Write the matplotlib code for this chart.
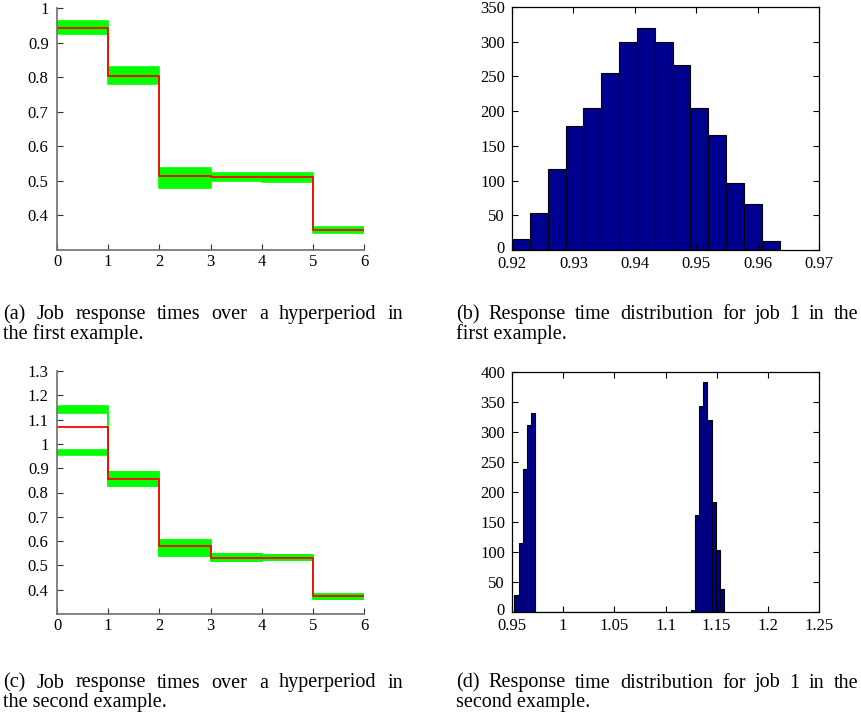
import numpy as np
import matplotlib
matplotlib.use("Agg")
import matplotlib.pyplot as plt
import matplotlib.transforms as mtransforms
from matplotlib.ticker import FuncFormatter

plt.rcParams['font.family'] = ['Liberation Serif', 'DejaVu Serif']

# ---------------- data ----------------
jobs = [0, 1, 2, 3, 4, 5, 6]

# (a) first example: band (min/max over runs) and mean per job
a_low = [0.925, 0.779, 0.478, 0.499, 0.498, 0.348]
a_high = [0.962, 0.830, 0.536, 0.524, 0.524, 0.367]
a_mean = [0.942, 0.803, 0.513, 0.511, 0.510, 0.357]

# (c) second example: job 1 is bimodal
c_up_low = [1.127, 0.828, 0.540, 0.517, 0.521, 0.362]
c_up_high = [1.156, 0.886, 0.606, 0.547, 0.543, 0.383]
c_dn_low = [0.954, 0.828, 0.540, 0.517, 0.521, 0.362]
c_dn_high = [0.975, 0.886, 0.606, 0.547, 0.543, 0.383]
c_mean = [1.070, 0.856, 0.578, 0.529, 0.529, 0.373]

# (b) histogram of job 1 response time, first example
b_start, b_stop = 0.92, 0.9636
b_counts = [16, 53, 117, 179, 204, 255, 300, 320, 300, 266, 204, 166, 96, 66, 13]

# (d) histogram of job 1 response time, second example (50 bins)
d_start, d_stop = 0.9523, 1.1574
d_counts = [29, 115, 238, 312, 332] + [0] * 37 + [4, 162, 343, 384, 320, 184, 104, 38]

captions = [
    ("(a) Job response times over a hyperperiod in", "the first example."),
    ("(b) Response time distribution for job 1 in the", "first example."),
    ("(c) Job response times over a hyperperiod in", "the second example."),
    ("(d) Response time distribution for job 1 in the", "second example."),
]

# ---------------- drawing ----------------
W, H = 861, 712
fig = plt.figure(figsize=(W / 100, H / 100), dpi=100)


def add_ax(x0, y0, x1, y1):
    return fig.add_axes([x0 / W, 1 - y1 / H, (x1 - x0) / W, (y1 - y0) / H])


fmt = FuncFormatter(lambda v, p: "%g" % round(v, 4))
GREEN = "#00ff00"
RED = "#ff0000"
NAVY = (0, 0, 0.56)
TICKFS = 12


def step_panel(ax, bands, mean, ylim, yticks):
    x = np.array(jobs, dtype=float)
    for lo, hi in bands:
        lo_e = list(lo) + [lo[-1]]
        hi_e = list(hi) + [hi[-1]]
        ax.fill_between(x, lo_e, hi_e, step='post', color=GREEN, lw=0)
        ax.step(x, lo_e, where='post', color=GREEN, lw=1.2)
        ax.step(x, hi_e, where='post', color=GREEN, lw=1.2)
    m = list(mean) + [mean[-1]]
    ax.step(x, m, where='post', color=RED, lw=1.3)
    ax.set_xlim(0, 6)
    ax.set_ylim(*ylim)
    ax.set_xticks(jobs)
    ax.set_yticks(yticks)
    ax.yaxis.set_major_formatter(fmt)
    for s in ['top', 'right']:
        ax.spines[s].set_visible(False)
    for s in ['left', 'bottom']:
        ax.spines[s].set_color('#6e6e6e')
        ax.spines[s].set_linewidth(1.2)
    ax.tick_params(direction='in', length=4, width=0.8, color='#333333',
                   labelsize=TICKFS)
    ax.tick_params(axis='y', pad=6)
    ax.tick_params(axis='x', pad=3)


def hist_panel(ax, start, stop, counts, xlim, xticks, ylim, yticks):
    n = len(counts)
    edges = np.linspace(start, stop, n + 1)
    ax.bar(edges[:-1], counts, width=np.diff(edges), align='edge',
           color=NAVY, edgecolor='black', linewidth=0.8)
    ax.set_xlim(*xlim)
    ax.set_ylim(*ylim)
    ax.set_xticks(xticks)
    ax.set_yticks(yticks)
    ax.xaxis.set_major_formatter(fmt)
    for s in ax.spines.values():
        s.set_color('black')
        s.set_linewidth(0.9)
    ax.tick_params(direction='in', length=4, width=0.8, top=True, right=True,
                   labelsize=TICKFS)
    ax.tick_params(axis='y', pad=5)
    ax.tick_params(axis='x', pad=4)
    # lift the bottom "0" label slightly so it clears the x labels
    lab = ax.get_yticklabels()[0]
    lab.set_transform(lab.get_transform() +
                      mtransforms.ScaledTranslation(0, 3 / 100, fig.dpi_scale_trans))


ax_a = add_ax(57, 8, 364, 250)
step_panel(ax_a, [(a_low, a_high)], a_mean, (0.3, 1.0),
           [0.4, 0.5, 0.6, 0.7, 0.8, 0.9, 1.0])

ax_b = add_ax(512, 7, 819, 250)
hist_panel(ax_b, b_start, b_stop, b_counts, (0.92, 0.97),
           [0.92, 0.93, 0.94, 0.95, 0.96, 0.97], (0, 350),
           list(range(0, 351, 50)))

ax_c = add_ax(57, 371, 364, 614)
step_panel(ax_c, [(c_up_low, c_up_high), (c_dn_low, c_dn_high)], c_mean,
           (0.3, 1.3), [0.4, 0.5, 0.6, 0.7, 0.8, 0.9, 1.0, 1.1, 1.2, 1.3])

ax_d = add_ax(512, 372, 819, 612)
hist_panel(ax_d, d_start, d_stop, d_counts, (0.95, 1.25),
           [0.95, 1.0, 1.05, 1.1, 1.15, 1.2, 1.25], (0, 400),
           list(range(0, 401, 50)))

# captions: first line justified to the column width, second line ragged
CAPFS = 14.5
renderer = fig.canvas.get_renderer()
cap_pos = [(3, 315, 403), (456, 315, 858), (3, 683, 403), (456, 683, 858)]
for (l1, l2), (px, py, pr) in zip(captions, cap_pos):
    words = l1.split(" ")
    arts = [fig.text(0, 1 - py / H, w, fontsize=CAPFS, va='center', ha='left')
            for w in words]
    widths = [a.get_window_extent(renderer).width for a in arts]
    gap = ((pr - px) - sum(widths)) / (len(words) - 1)
    cur = px
    for a, w in zip(arts, widths):
        a.set_x(cur / W)
        cur += w + gap
    fig.text(px / W, 1 - (py + 19) / H, l2, fontsize=CAPFS, va='center', ha='left')

fig.savefig("out.png", dpi=100)
